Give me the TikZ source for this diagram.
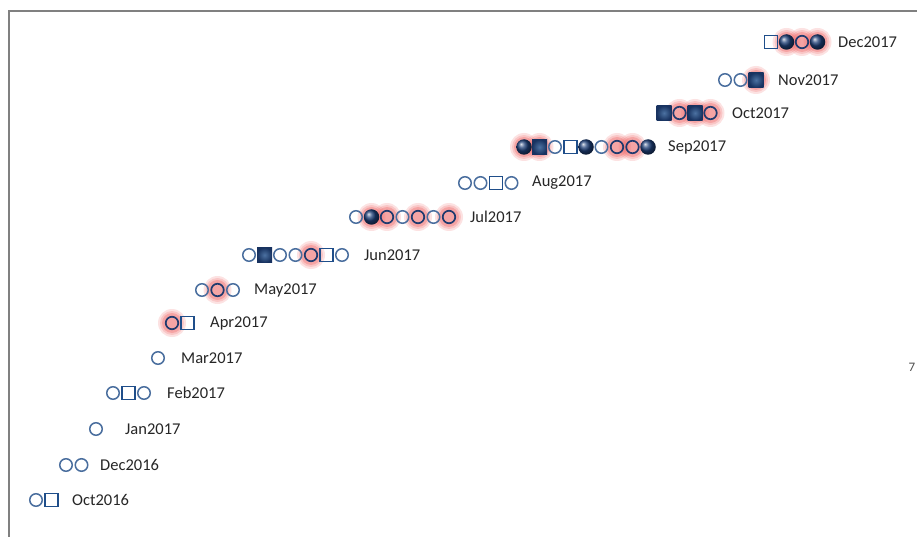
\documentclass[tikz,border=0pt]{standalone}
\usepackage{fontspec}
\setmainfont{Carlito}
\usetikzlibrary{shapes, positioning, calc}
\definecolor{ringBlue}{HTML}{4A6E9E}
\definecolor{ringNavy}{HTML}{1F3A6E}
\definecolor{boxBlue}{HTML}{1F4E8A}
\definecolor{ballNavy}{HTML}{1E3F78}
\definecolor{glowPink}{HTML}{F07070}
\definecolor{frameGray}{HTML}{808080}
\tikzset{
    oc/.style={circle, draw=ringBlue, line width=1.5pt, minimum size=12.5pt, inner sep=0pt},
    nc/.style={circle, draw=ringNavy, line width=1.7pt, minimum size=12.5pt, inner sep=0pt},
    fc/.style={circle, shading=ball, ball color=ballNavy, minimum size=15.5pt, inner sep=0pt},
    os/.style={rectangle, draw=boxBlue, line width=1.4pt, minimum size=13pt, inner sep=0pt},
    fs/.style={rectangle, inner color=boxBlue!80!white, outer color=ballNavy!80!black, minimum size=15pt, inner sep=0pt},
    monthlbl/.style={anchor=west, inner sep=0pt, text=black!85, font=\fontsize{16.5}{19}\selectfont}
}
\newcommand{\DrawRow}[6]{
    % #1: row name, #2: first x, #3: y level, #4: label x, #5: Label, #6: kind/glow list
    \foreach \kind/\hl [count=\i from 0] in {#6}{
        \ifnum\hl=1
            \foreach \r/\o in {14/0.2, 12/0.25, 10/0.4}
                \fill[glowPink, opacity=\o] (#2+\i*15.5, #3) circle (\r);
        \fi
    }
    \foreach \kind/\hl [count=\i from 0] in {#6}
        \node[\kind] (#1-\i) at (#2+\i*15.5, #3) {};
    \node[monthlbl] (#1-lbl) at (#4, #3) {#5};
}

\begin{document}
\begin{tikzpicture}[x=1pt, y=-1pt]
        \useasboundingbox (0,0) rectangle (917,537);

        % Frame
        \draw[frameGray, line width=1.6pt] (9,537) -- (9,11) -- (917,11);

        % Rows, latest month on top
        \DrawRow{dec17}{771}{42}{838}{Dec2017}{os/0, fc/1, nc/1, fc/1}
        \DrawRow{nov17}{725}{80}{778}{Nov2017}{oc/0, oc/0, fs/1}
        \DrawRow{oct17}{664}{113}{732}{Oct2017}{fs/0, nc/1, fs/1, nc/1}
        \DrawRow{sep17}{524}{147}{668}{Sep2017}{fc/1, fs/1, oc/0, os/0, fc/0, oc/0, nc/1, nc/1, fc/0}
        \DrawRow{aug17}{465}{183}{532}{Aug2017}{oc/0, oc/0, os/0, oc/0}
        \DrawRow{jul17}{356}{217}{470}{Jul2017}{oc/0, fc/1, nc/1, oc/0, nc/1, oc/0, nc/1}
        \DrawRow{jun17}{249}{255}{364}{Jun2017}{oc/0, fs/0, oc/0, oc/0, nc/1, os/0, oc/0}
        \DrawRow{may17}{202}{290}{254}{May2017}{oc/0, nc/1, oc/0}
        \DrawRow{apr17}{172}{323}{210}{Apr2017}{nc/1, os/0}
        \DrawRow{mar17}{158}{358}{181}{Mar2017}{oc/0}
        \DrawRow{feb17}{113}{393}{167}{Feb2017}{oc/0, os/0, oc/0}
        \DrawRow{jan17}{96}{429}{125}{Jan2017}{oc/0}
        \DrawRow{dec16}{66}{465}{100}{Dec2016}{oc/0, oc/0}
        \DrawRow{oct16}{36}{500}{72}{Oct2016}{oc/0, os/0}

        % Clipped mark at the right edge
        \node[inner sep=0pt, text=black!70, font=\fontsize{13}{14}\selectfont] (cut) at (912,367) {7};
    \end{tikzpicture}
\end{document}
